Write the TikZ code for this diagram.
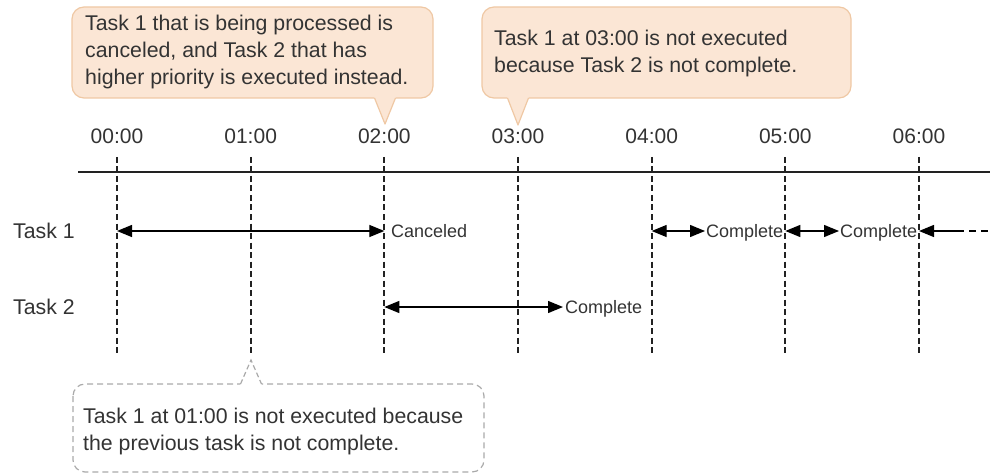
\documentclass[tikz,border=0pt]{standalone}
\usepackage{fontspec}
\setmainfont{Liberation Sans}
\usetikzlibrary{arrows.meta}
\definecolor{txt}{HTML}{333333}
\definecolor{cfill}{HTML}{FBE6D5}
\definecolor{cline}{HTML}{EFC8A4}
\definecolor{dline}{HTML}{AAAAAA}
\definecolor{vline}{HTML}{222222}
\tikzset{
  big/.style={font=\fontsize{21.3}{27}\selectfont, text=txt, inner sep=0pt},
  tlabel/.style={font=\fontsize{21}{24}\selectfont, text=txt, inner sep=0pt, anchor=base},
  small/.style={font=\fontsize{18}{20}\selectfont, text=txt, inner sep=0pt, anchor=base west},
  vdash/.style={draw=vline, line width=1.8pt, dash pattern=on 6pt off 3.5pt},
  span/.style={line width=1.3pt, black, {Triangle[length=15pt,width=12pt]}-{Triangle[length=15pt,width=12pt]}},
  lspan/.style={line width=1.3pt, black, {Triangle[length=15pt,width=12pt]}-},
  bubble/.style={fill=cfill, draw=cline, line width=1.2pt, rounded corners=12pt},
  dbubble/.style={fill=white, draw=dline, line width=1.2pt, rounded corners=12pt, dash pattern=on 6pt off 4pt},
}
\begin{document}
\begin{tikzpicture}[x=1pt,y=-1pt]
\useasboundingbox (0,0) rectangle (990,473);
% time positions
\foreach \i/\t in {0/00:00,1/01:00,2/02:00,3/03:00,4/04:00,5/05:00,6/06:00}{
  \pgfmathsetmacro{\xx}{117+\i*133.667}
  \coordinate (top\i) at (\xx,157);
  \coordinate (bot\i) at (\xx,355);
  \coordinate (a\i) at (\xx,231);
  \coordinate (b\i) at (\xx,307);
  \node[tlabel] (time\i) at (\xx,144) {\t};
}
% timeline
\coordinate (tlL) at (78,172.5);
\coordinate (tlR) at (990,172.5);
\draw[line width=2pt, vline] (tlL) -- (tlR);
\foreach \i in {0,...,6}{ \draw[vdash] (top\i) -- (bot\i); }
% row labels
\node[big, anchor=base west] (task1) at (13,238) {Task 1};
\node[big, anchor=base west] (task2) at (13,314) {Task 2};
% Task 1 spans
\node[small] (canc) at (391,237) {Canceled};
\draw[span] (a0) -- (a2);
\coordinate (c4) at (705,231);
\node[small] (comp1) at (706,237) {Complete};
\draw[span] (a4) -- (c4);
\coordinate (c5) at (839,231);
\node[small] (comp2) at (840,237) {Complete};
\draw[span] (a5) -- (c5);
\coordinate (c6) at (957,231);
\coordinate (c7) at (990,231);
\draw[lspan] (a6) -- (c6);
\draw[line width=1.3pt, black, dash pattern=on 7pt off 5pt] (c6) -- (c7);
% Task 2 span
\coordinate (d3) at (563,307);
\node[small] (comp3) at (565,313) {Complete};
\draw[span] (b2) -- (d3);
% callout 1
\draw[bubble] (72,7) rectangle (433,98);
\fill[cfill] (374,96.5) -- (385,124) -- (396,96.5) -- cycle;
\draw[cline, line width=1.2pt, line join=round] (374.5,98) -- (385,124) -- (395.5,98);
\node[big, anchor=base west] (n1a) at (85,31) {Task 1 that is being processed is};
\node[big, anchor=base west] (n1b) at (85,58) {canceled, and Task 2 that has};
\node[big, anchor=base west] (n1c) at (85,85) {higher priority is executed instead.};
% callout 2
\draw[bubble] (482,7) rectangle (851,98);
\fill[cfill] (507,96.5) -- (518,125) -- (529,96.5) -- cycle;
\draw[cline, line width=1.2pt, line join=round] (507.5,98) -- (518,125) -- (528.5,98);
\node[big, anchor=base west] (n2a) at (494,46) {Task 1 at 03:00 is not executed};
\node[big, anchor=base west] (n2b) at (494,72.5) {because Task 2 is not complete.};
% callout 3
\draw[dbubble] (73,384) rectangle (484,472);
\fill[white] (240,385.5) -- (251,360) -- (262,385.5) -- cycle;
\draw[dline, line width=1.2pt, dash pattern=on 5pt off 3pt] (240.5,384) -- (251,360) -- (261.5,384);
\node[big, anchor=base west] (n3a) at (83,423) {Task 1 at 01:00 is not executed because};
\node[big, anchor=base west] (n3b) at (83,450) {the previous task is not complete.};
\end{tikzpicture}
\end{document}
